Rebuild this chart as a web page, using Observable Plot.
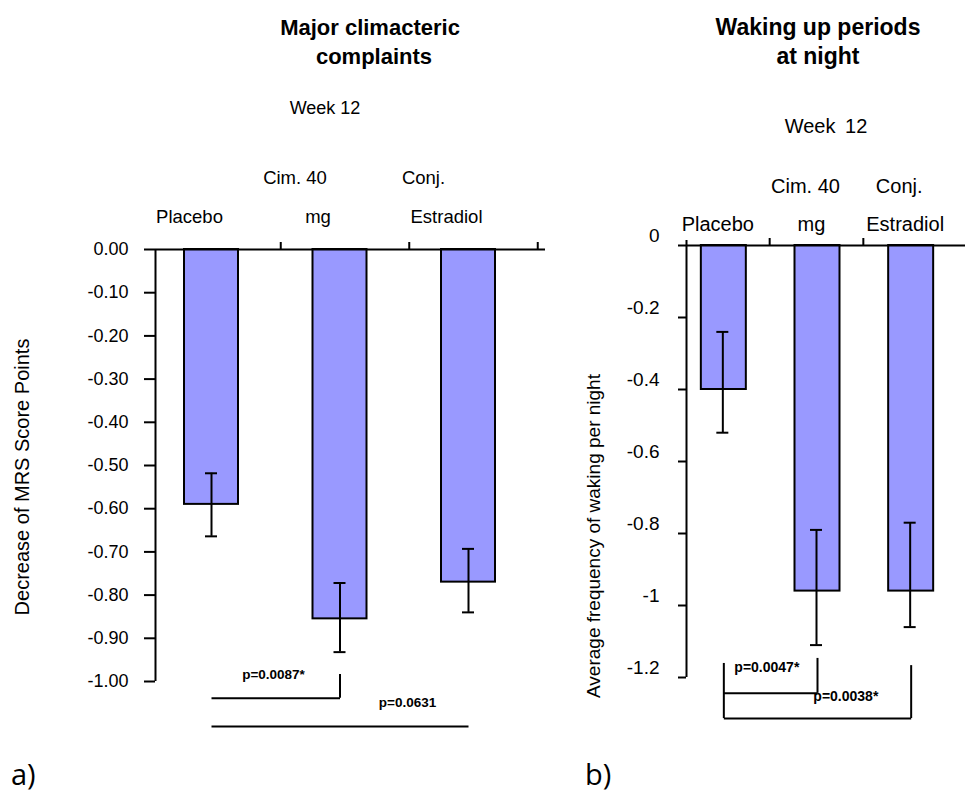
<!DOCTYPE html>
<html><head><meta charset="utf-8">
<script src="https://cdn.jsdelivr.net/npm/d3@7"></script>
<script src="https://cdn.jsdelivr.net/npm/@observablehq/plot@0.6"></script>
<style>
html,body{margin:0;padding:0;background:#fff;}
body{width:965px;height:795px;position:relative;overflow:hidden;font-family:"Liberation Sans",Arial,sans-serif;}
.abs{position:absolute;top:0;}
</style></head><body>
<div id="left" class="abs" style="left:0"></div>
<div id="right" class="abs" style="left:560px"></div>
<script>
// ---------- data ----------
const cats = ["Placebo", "Cim. 40 mg", "Conj. Estradiol"];
const catLine1 = ["", "Cim. 40", "Conj."];
const catLine2 = ["Placebo", "mg", "Estradiol"];

// a) Major climacteric complaints (MRS score change)
const mrsMean = [-0.59, -0.855, -0.77];
const mrsLow  = [-0.664, -0.932, -0.84];
const mrsHigh = [-0.518, -0.772, -0.693];
const mrsTicks = [0, -0.1, -0.2, -0.3, -0.4, -0.5, -0.6, -0.7, -0.8, -0.9, -1];
const mrsTickLabels = ["0.00","-0.10","-0.20","-0.30","-0.40","-0.50","-0.60","-0.70","-0.80","-0.90","-1.00"];
const mrsLinks = [
  {from: "Placebo", to: "Cim. 40 mg", y: -1.039},
  {from: "Placebo", to: "Conj. Estradiol", y: -1.104}
];
const mrsLegs = [{cat: "Cim. 40 mg", top: -0.984, bottom: -1.039}];
const mrsPLabels = ["p=0.0087*", "p=0.0631"];
const mrsPLabelY = [-0.984, -1.050];

// b) Waking up periods at night
const wakeMean = [-0.40, -0.96, -0.96];
const wakeLow  = [-0.52, -1.11, -1.06];
const wakeHigh = [-0.24, -0.79, -0.77];
const wakeTicks = [0, -0.2, -0.4, -0.6, -0.8, -1, -1.2];
const wakeTickLabels = ["0","-0.2","-0.4","-0.6","-0.8","-1","-1.2"];
const wakeLinks = [
  {from: "Placebo", to: "Cim. 40 mg", y: -1.244},
  {from: "Placebo", to: "Conj. Estradiol", y: -1.314}
];
const wakeLegs = [
  {cat: "Placebo", top: -1.161, bottom: -1.314},
  {cat: "Cim. 40 mg", top: -1.147, bottom: -1.244},
  {cat: "Conj. Estradiol", top: -1.167, bottom: -1.314}
];
const wakePLabels = ["p=0.0047*", "p=0.0038*"];
const wakePLabelY = [-1.172, -1.253];

// ---------- build tables ----------
const mk = (mean, lo, hi) => cats.map((c, i) => ({cat: c, l1: catLine1[i], l2: catLine2[i], mean: mean[i], lo: lo[i], hi: hi[i]}));
const mrs = mk(mrsMean, mrsLow, mrsHigh);
const wake = mk(wakeMean, wakeLow, wakeHigh);
const fmt = (ticks, labels) => d => labels[ticks.findIndex(t => Math.abs(t - d) < 1e-9)];

const FONT = "Liberation Sans, Arial, sans-serif";
const BAR = "#9999ff";

// ---------- left panel ----------
const bwL = 128.5;
const left = Plot.plot({
  width: 560, height: 795,
  marginLeft: 155, marginRight: 15, marginTop: 249, marginBottom: 114,
  style: {fontFamily: FONT, color: "#000", background: "transparent", overflow: "visible"},
  x: {type: "band", domain: cats, padding: 0, round: false, insetLeft: -8.25, insetRight: 12.75, axis: null},
  y: {domain: [-1, 0], axis: null, label: null},
  marks: [
    Plot.barY(mrs, {x: "cat", y1: 0, y2: "mean", fill: BAR, stroke: "#000", strokeWidth: 2, insetLeft: (bwL - 54) / 2, insetRight: (bwL - 54) / 2}),
    Plot.ruleY([0], {stroke: "#000", strokeWidth: 2}),
    Plot.ruleX(cats, {x: d => d, y1: 0, y2: 0, insetBottom: 7, dx: bwL / 2 + 5, strokeWidth: 2}),
    // y axis line and ticks
    Plot.ruleX([cats[0]], {x: d => d, y1: d3.min(mrsTicks), y2: d3.max(mrsTicks), dx: -bwL / 2 + 8.25, strokeWidth: 2}),
    Plot.ruleY(mrsTicks, {y: d => d, insetLeft: -11, insetRight: 390, strokeWidth: 2}),
    Plot.axisY({ticks: mrsTicks, tickFormat: fmt(mrsTicks, mrsTickLabels), tickSize: 0, tickPadding: 27, fontSize: 18, label: null}),
    // error bars
    Plot.ruleX(mrs, {x: "cat", y1: "lo", y2: "hi", strokeWidth: 2}),
    Plot.tickY(mrs, {x: "cat", y: "lo", strokeWidth: 2, insetLeft: (bwL - 12) / 2, insetRight: (bwL - 12) / 2}),
    Plot.tickY(mrs, {x: "cat", y: "hi", strokeWidth: 2, insetLeft: (bwL - 12) / 2, insetRight: (bwL - 12) / 2}),
    // category labels
    Plot.text(mrs, {x: "cat", text: "l1", frameAnchor: "top", dy: -79, dx: -45, fontSize: 18.5}),
    Plot.text(mrs, {x: "cat", text: "l2", frameAnchor: "top", dy: -40, dx: -22, fontSize: 18.5}),
    // significance brackets
    Plot.link(mrsLinks, {x1: "from", x2: "to", y1: "y", y2: "y", strokeWidth: 2}),
    Plot.ruleX(mrsLegs, {x: "cat", y1: "top", y2: "bottom", strokeWidth: 2}),
    Plot.text([0], {x: () => "Placebo", y: () => mrsPLabelY[0], text: () => mrsPLabels[0], dx: 62, fontWeight: "bold", fontSize: 13.5}),
    Plot.text([1], {x: () => "Placebo", y: () => mrsPLabelY[1], text: () => mrsPLabels[1], dx: 196, fontWeight: "bold", fontSize: 13.5})
  ]
});
document.getElementById("left").appendChild(left);

// ---------- right panel ----------
const bwR = 281 / 3;
const right = Plot.plot({
  width: 405, height: 795,
  marginLeft: 126, marginRight: 0, marginTop: 245, marginBottom: 118,
  style: {fontFamily: FONT, color: "#000", background: "transparent", overflow: "visible"},
  x: {type: "band", domain: cats, padding: 0, round: false, insetLeft: -9.5, insetRight: 7.5, axis: null},
  y: {domain: [-1.2, 0], axis: null, label: null},
  marks: [
    Plot.barY(wake, {x: "cat", y1: 0, y2: "mean", fill: BAR, stroke: "#000", strokeWidth: 2, insetLeft: (bwR - 45) / 2, insetRight: (bwR - 45) / 2}),
    Plot.ruleY([0], {stroke: "#000", strokeWidth: 2}),
    Plot.ruleX(cats.slice(0, 2), {x: d => d, y1: 0, y2: 0, insetBottom: 7, dx: bwR / 2 - 1, strokeWidth: 2}),
    // y axis line and ticks
    Plot.ruleX([cats[0]], {x: d => d, y1: d3.min(wakeTicks), y2: d3.max(wakeTicks), insetBottom: 5, dx: -bwR / 2 + 9.5, strokeWidth: 2}),
    Plot.ruleY(wakeTicks, {y: d => d, insetLeft: -8, insetRight: 279, strokeWidth: 2}),
    Plot.axisY({ticks: wakeTicks, tickFormat: fmt(wakeTicks, wakeTickLabels), tickSize: 0, tickPadding: 27, dy: -10, fontSize: 19, label: null}),
    // error bars
    Plot.ruleX(wake, {x: "cat", y1: "lo", y2: "hi", strokeWidth: 2, dx: -1}),
    Plot.tickY(wake, {x: "cat", y: "lo", strokeWidth: 2, dx: -1, insetLeft: (bwR - 12) / 2, insetRight: (bwR - 12) / 2}),
    Plot.tickY(wake, {x: "cat", y: "hi", strokeWidth: 2, dx: -1, insetLeft: (bwR - 12) / 2, insetRight: (bwR - 12) / 2}),
    // category labels
    Plot.text(wake, {x: "cat", text: "l1", frameAnchor: "top", dy: -67, dx: -12, fontSize: 20}),
    Plot.text(wake, {x: "cat", text: "l2", frameAnchor: "top", dy: -29, dx: -6, fontSize: 20}),
    // significance brackets
    Plot.link(wakeLinks, {x1: "from", x2: "to", y1: "y", y2: "y", strokeWidth: 2}),
    Plot.ruleX(wakeLegs, {x: "cat", y1: "top", y2: "bottom", strokeWidth: 2}),
    Plot.text([0], {x: () => "Placebo", y: () => wakePLabelY[0], text: () => wakePLabels[0], dx: 43, fontWeight: "bold", fontSize: 14}),
    Plot.text([1], {x: () => "Placebo", y: () => wakePLabelY[1], text: () => wakePLabels[1], dx: 122, fontWeight: "bold", fontSize: 14})
  ]
});
document.getElementById("right").appendChild(right);

// ---------- titles, axis titles, panel letters ----------
const over = d3.select("body").append("svg")
  .attr("width", 965).attr("height", 795)
  .style("position", "absolute").style("left", 0).style("top", 0).style("pointer-events", "none")
  .attr("font-family", FONT);
function t(txt, x, y, size, opts = {}) {
  const e = over.append("text").attr("x", x).attr("y", y).attr("font-size", size)
    .attr("text-anchor", opts.anchor || "middle").text(txt);
  if (opts.bold) e.attr("font-weight", "bold");
  if (opts.family) e.attr("font-family", opts.family);
  if (opts.rotate) e.attr("transform", `rotate(${opts.rotate},${x},${y})`);
  if (opts.ws) e.attr("word-spacing", opts.ws);
  return e;
}
t("Major climacteric", 370, 35, 22, {bold: true});
t("complaints", 374, 63.5, 22, {bold: true});
t("Week 12", 325, 114, 18);
t("Waking up periods", 818, 35, 23, {bold: true});
t("at night", 818, 63.5, 23, {bold: true});
t("Week 12", 826, 132.5, 20, {ws: 4});
t("Decrease of MRS Score Points", 29, 477, 20, {rotate: -90});
t("Average frequency of waking per night", 600, 536, 19, {rotate: -90});
t("a)", 11, 785, 29, {anchor: "start", family: "Open Sans, sans-serif"});
t("b)", 585, 785, 29, {anchor: "start", family: "Open Sans, sans-serif"});
</script>
</body></html>
